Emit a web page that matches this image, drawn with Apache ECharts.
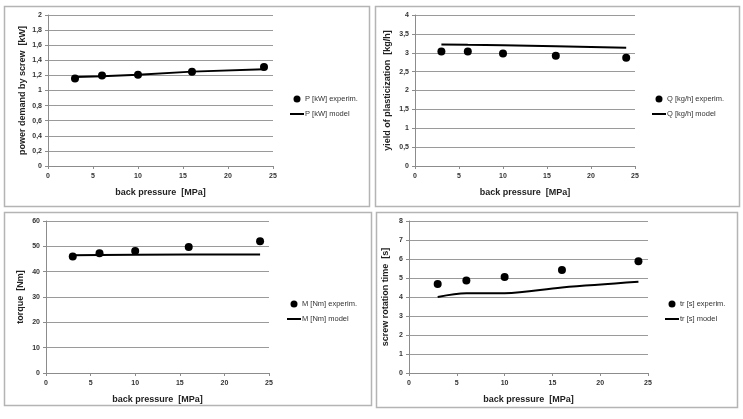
<!DOCTYPE html>
<html><head><meta charset="utf-8">
<script src="https://cdn.jsdelivr.net/npm/echarts@6/dist/echarts.min.js"></script>
<style>html,body{margin:0;padding:0;background:#fff}#c{width:743px;height:419px}</style>
</head><body><div id="c"></div>
<script>
const backPressure = [3, 6, 10, 16, 24];
const P_exp = [1.16, 1.20, 1.21, 1.25, 1.31];
const P_model = [1.18, 1.19, 1.21, 1.25, 1.28];
const Q_exp = [3.03, 3.03, 2.98, 2.92, 2.87];
const Q_model = [3.22, 3.21, 3.20, 3.17, 3.13];
const M_exp = [46.0, 47.3, 48.2, 49.7, 52.0];
const M_model = [46.5, 46.6, 46.7, 46.8, 46.8];
const tr_exp = [4.68, 4.87, 5.05, 5.42, 5.88];
const tr_model = [4.0, 4.2, 4.2, 4.5, 4.8];

const xTitle = 'back pressure  [MPa]';
const yTitles = ['power demand by screw  [kW]', 'yield of plasticization  [kg/h]', 'torque  [Nm]', 'screw rotation time  [s]'];
const names = [['P [kW] experim.', 'P [kW] model'], ['Q [kg/h] experim.', 'Q [kg/h] model'], ['M [Nm] experim.', 'M [Nm] model'], ['tr [s] experim.', 'tr [s] model']];
const yRanges = [[0, 2, 0.2], [0, 4, 0.5], [0, 60, 10], [0, 8, 1]];
const expData = [P_exp, Q_exp, M_exp, tr_exp];
const modelData = [P_model, Q_model, M_model, tr_model];

const FONT = 'Liberation Sans';
const grids = [
  {left: 48, top: 15, width: 225, height: 151},
  {left: 415, top: 15, width: 220, height: 151},
  {left: 46, top: 221, width: 223, height: 152},
  {left: 409, top: 221, width: 239, height: 152}
];
const yNameGaps = [21, 23, 21, 19];
const legendPos = [[290, 95], [652, 95], [287, 300], [665, 300]];
const panels = [[4, 6, 365, 200], [375, 6, 364, 200], [4, 212, 367, 193], [376, 212, 361, 195]];

const pair = (xs, ys) => xs.map((x, i) => [x, ys[i]]);
const fmt = v => String(v).replace('.', ',');

const option = {
  animation: false,
  backgroundColor: '#fff',
  graphic: panels.map(p => ({type: 'rect', z: -10, shape: {x: p[0] + 0.5, y: p[1] + 0.5, width: p[2], height: p[3]}, style: {fill: '#fff', stroke: '#b4b4b4', lineWidth: 1.5}})),
  grid: grids,
  xAxis: grids.map((g, i) => ({
    type: 'value', gridIndex: i, min: 0, max: 25, interval: 5,
    name: xTitle, nameLocation: 'middle', nameGap: 22,
    nameTextStyle: {fontFamily: FONT, fontSize: 9, fontWeight: 'bold', color: '#222'},
    axisLine: {show: true, lineStyle: {color: '#8c8c8c'}},
    axisTick: {show: true, length: 3, lineStyle: {color: '#8c8c8c'}},
    axisLabel: {fontFamily: FONT, fontSize: 7, fontWeight: 'bold', color: '#333', margin: 7},
    splitLine: {show: false}
  })),
  yAxis: grids.map((g, i) => ({
    type: 'value', gridIndex: i, min: yRanges[i][0], max: yRanges[i][1], interval: yRanges[i][2],
    name: yTitles[i], nameLocation: 'middle', nameGap: yNameGaps[i],
    nameTextStyle: {fontFamily: FONT, fontSize: 9, fontWeight: 'bold', color: '#222'},
    axisLine: {show: true, lineStyle: {color: '#8c8c8c'}},
    axisTick: {show: true, length: 3, lineStyle: {color: '#8c8c8c'}},
    axisLabel: {fontFamily: FONT, fontSize: 7, fontWeight: 'bold', color: '#333', margin: 6, formatter: fmt},
    splitLine: {show: true, lineStyle: {color: '#9a9a9a', width: 1}}
  })),
  legend: grids.map((g, i) => ({
    orient: 'vertical', left: legendPos[i][0], top: legendPos[i][1], padding: 0,
    itemWidth: 14, itemHeight: 7, itemGap: 7,
    textStyle: {fontFamily: FONT, fontSize: 7.5, color: '#333', padding: [0, 0, 0, -4]},
    data: [{name: names[i][0], icon: 'circle'}, {name: names[i][1], icon: 'path://M0,0 L14,0 L14,2 L0,2 Z'}]
  })),
  series: []
};
for (let i = 0; i < 4; i++) {
  option.series.push({
    name: names[i][0], type: 'scatter', xAxisIndex: i, yAxisIndex: i,
    data: pair(backPressure, expData[i]), symbol: 'circle', symbolSize: 8,
    itemStyle: {color: '#000', opacity: 1}, z: 3
  });
  option.series.push({
    name: names[i][1], type: 'line', xAxisIndex: i, yAxisIndex: i,
    data: pair(backPressure, modelData[i]), symbol: 'none', smooth: i === 3 ? 0.35 : false,
    lineStyle: {color: '#000', width: 2}, itemStyle: {color: '#000'}, z: 2
  });
}
const chart = echarts.init(document.getElementById('c'), null, {renderer: 'canvas'});
chart.setOption(option);
</script>
</body></html>
